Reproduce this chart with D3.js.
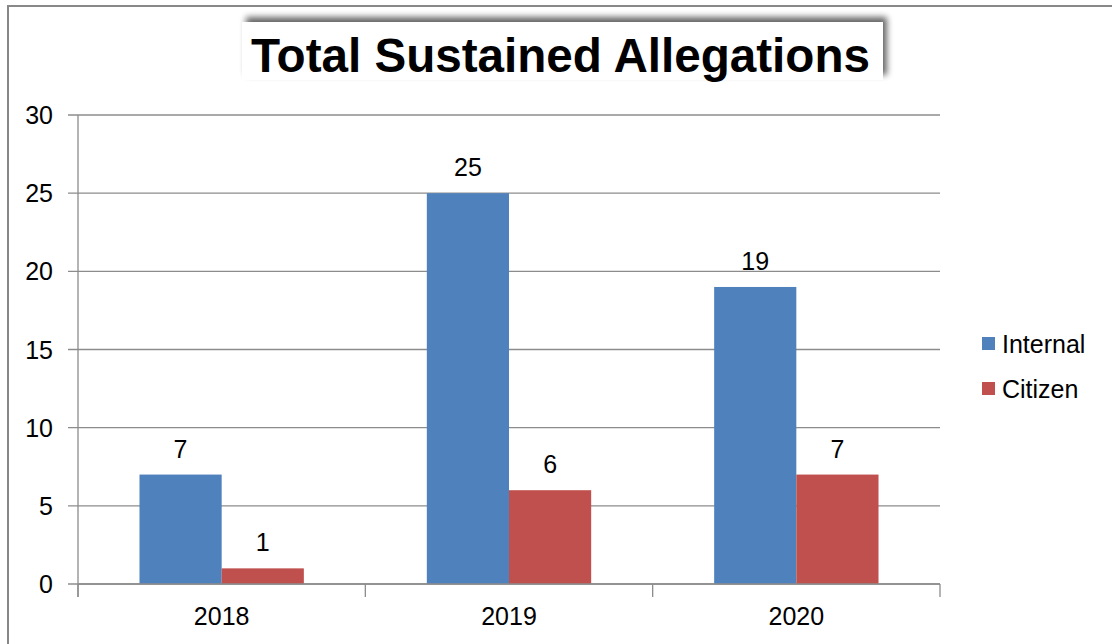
<!DOCTYPE html>
<html><head><meta charset="utf-8">
<script src="https://cdn.jsdelivr.net/npm/d3@7"></script>
<style>body{margin:0;background:#fff}svg{display:block}text{font-family:Arial,"Liberation Sans",Helvetica,sans-serif}</style>
</head><body>
<script>
const categories = ["2018","2019","2020"];
const seriesNames = ["Internal","Citizen"];
const internalValues = [7,25,19];
const citizenValues = [1,6,7];
const yTicks = [0,5,10,15,20,25,30];
const colors = ["#4f81bd","#c0504d"];
const title = "Total Sustained Allegations";

const W=1112,H=644;
const FS=25;
const svg=d3.select("body").append("svg").attr("width",W).attr("height",H);
const defs=svg.append("defs");
const f=defs.append("filter").attr("id","sh").attr("x","-10%").attr("y","-40%").attr("width","120%").attr("height","180%");
f.append("feGaussianBlur").attr("in","SourceAlpha").attr("stdDeviation",3);
f.append("feOffset").attr("dx",4).attr("dy",-5).attr("result","b");
f.append("feComponentTransfer").append("feFuncA").attr("type","linear").attr("slope",0.6);
const m=f.append("feMerge");m.append("feMergeNode");m.append("feMergeNode").attr("in","SourceGraphic");

svg.append("rect").attr("x",8).attr("y",6).attr("width",W).attr("height",H).attr("fill","#fff").attr("stroke","#888").attr("stroke-width",2);

const x=d3.scaleBand().domain(categories).range([78,940]);
const y=d3.scaleLinear().domain([0,30]).range([584,115]);
const barW = x.bandwidth()*0.286;
const data=categories.map((c,i)=>({c,vals:[internalValues[i],citizenValues[i]]}));

// gridlines
svg.append("g").selectAll("line").data(yTicks).join("line")
 .attr("x1",68).attr("x2",940).attr("y1",d=>y(d)).attr("y2",d=>y(d)).attr("stroke","#8c8c8c").attr("stroke-width",1.3);
// y axis
svg.append("line").attr("x1",78).attr("x2",78).attr("y1",115).attr("y2",597).attr("stroke","#8c8c8c").attr("stroke-width",1.3);
svg.append("g").selectAll("text").data(yTicks).join("text")
 .attr("x",53).attr("y",d=>y(d)+9).attr("text-anchor","end")
 .attr("font-size",FS).text(d=>d);

// bars
const g=svg.append("g");
data.forEach(d=>{
  const cx=x(d.c)+x.bandwidth()/2;
  d.vals.forEach((v,j)=>{
    const bx = cx + (j===0?-barW:0);
    g.append("rect").attr("x",bx).attr("width",barW).attr("y",y(v)).attr("height",y(0)-y(v)).attr("fill",colors[j]);
    g.append("text").attr("x",bx+barW/2).attr("y",y(v)-17).attr("text-anchor","middle")
     .attr("font-size",FS).text(v);
  });
});
// x axis
svg.append("line").attr("x1",78).attr("x2",940).attr("y1",584).attr("y2",584).attr("stroke","#8c8c8c").attr("stroke-width",1.3);
const bounds=categories.map(c=>x(c)).concat([940]);
svg.append("g").selectAll("line").data(bounds).join("line")
 .attr("x1",d=>d).attr("x2",d=>d).attr("y1",584).attr("y2",597).attr("stroke","#8c8c8c").attr("stroke-width",1.3);
svg.append("g").selectAll("text").data(categories).join("text")
 .attr("x",d=>x(d)+x.bandwidth()/2).attr("y",625).attr("text-anchor","middle")
 .attr("font-size",FS).text(d=>d);

// title
svg.append("rect").attr("x",242).attr("y",22).attr("width",641).attr("height",58).attr("fill","#fff").attr("filter","url(#sh)");
svg.append("text").attr("x",251).attr("y",71.5)
 .attr("font-weight","bold").attr("font-size",48).attr("textLength",619).attr("lengthAdjust","spacingAndGlyphs").text(title);

// legend
const lg=svg.append("g");
seriesNames.forEach((s,i)=>{
  const ly=343.5+i*45;
  lg.append("rect").attr("x",982).attr("y",ly-6.5).attr("width",13).attr("height",13).attr("fill",colors[i]);
  lg.append("text").attr("x",1002).attr("y",ly+9)
   .attr("font-size",FS).text(s);
});
</script>
</body></html>
